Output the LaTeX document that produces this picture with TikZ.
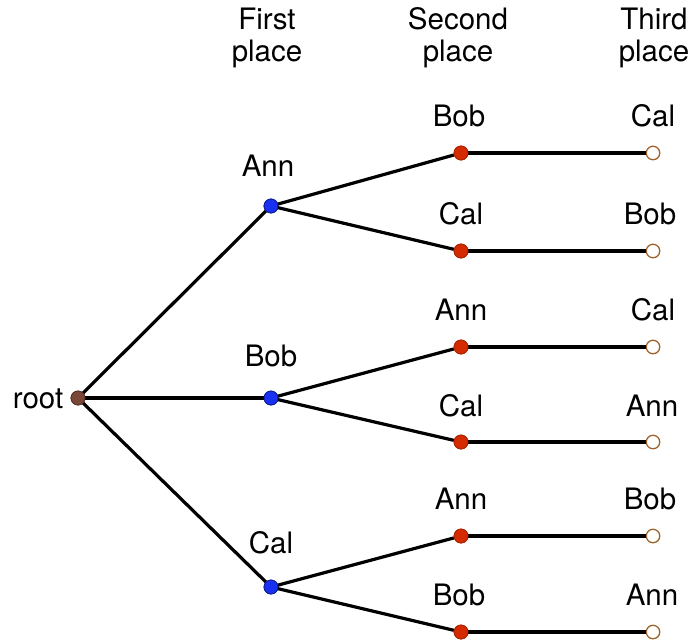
\documentclass[tikz,border=0pt]{standalone}
\usepackage{fontspec}
\setmainfont{TeX Gyre Heros}
\begin{document}
\begin{tikzpicture}[x=1pt,y=-1pt,
  lbl/.style={font=\fontsize{29.5}{32}\selectfont, inner sep=0pt, anchor=center, align=center},
  dotroot/.style={circle, inner sep=0pt, minimum size=14pt, fill=rootbrown, draw=rootbrown!70!black, line width=0.8pt},
  dotfirst/.style={circle, inner sep=0pt, minimum size=14pt, fill=firstblue, draw=firstblue!60!black, line width=0.8pt},
  dotsecond/.style={circle, inner sep=0pt, minimum size=14pt, fill=secondred, draw=secondred!80!black, line width=0.8pt},
  dotthird/.style={circle, inner sep=0pt, minimum size=13.5pt, fill=white, draw=thirdbrown, line width=1.3pt},
  branch/.style={line width=3.2pt, black}]
\definecolor{rootbrown}{HTML}{7A4636}
\definecolor{firstblue}{HTML}{1A30F0}
\definecolor{secondred}{HTML}{D42A00}
\definecolor{thirdbrown}{HTML}{A0622A}
\useasboundingbox (0,0) rectangle (692,640);

% column headings
\node[lbl] (h1) at (267,38) {First\\place};
\node[lbl] (h2) at (458,38) {Second\\place};
\node[lbl] (h3) at (654,38) {Third\\place};

% nodes
\node[dotroot] (r) at (78,398) {};
\node[dotfirst] (a) at (271,206) {};
\node[dotfirst] (b) at (271,398) {};
\node[dotfirst] (c) at (271,587) {};
\node[dotsecond] (ab) at (461,153) {};
\node[dotsecond] (ac) at (461,251) {};
\node[dotsecond] (ba) at (461,347) {};
\node[dotsecond] (bc) at (461,442) {};
\node[dotsecond] (ca) at (461,536) {};
\node[dotsecond] (cb) at (461,632) {};
\node[dotthird] (abc) at (653,153) {};
\node[dotthird] (acb) at (653,251) {};
\node[dotthird] (bac) at (653,347) {};
\node[dotthird] (bca) at (653,442) {};
\node[dotthird] (cab) at (653,536) {};
\node[dotthird] (cba) at (653,632) {};

% branches
\foreach \s/\t in {r/a,r/b,r/c,a/ab,a/ac,b/ba,b/bc,c/ca,c/cb,ab/abc,ac/acb,ba/bac,bc/bca,ca/cab,cb/cba}
  \draw[branch] (\s.center) -- (\t);
% redraw dots on top of the branches
\node[dotroot] at (r) {};
\foreach \n in {a,b,c} \node[dotfirst] at (\n) {};
\foreach \n in {ab,ac,ba,bc,ca,cb} \node[dotsecond] at (\n) {};

% labels
\node[lbl] (lr) at (38,399) {root};
\node[lbl] (la) at (268,166) {Ann};
\node[lbl] (lb) at (271,356) {Bob};
\node[lbl] (lc) at (271,543) {Cal};
\node[lbl] (lab) at (459,116) {Bob};
\node[lbl] (lac) at (461,214) {Cal};
\node[lbl] (lba) at (461,310) {Ann};
\node[lbl] (lbc) at (461,406) {Cal};
\node[lbl] (lca) at (461,499) {Ann};
\node[lbl] (lcb) at (459,595) {Bob};
\node[lbl] (labc) at (653,116) {Cal};
\node[lbl] (lacb) at (650,214) {Bob};
\node[lbl] (lbac) at (653,310) {Cal};
\node[lbl] (lbca) at (652,406) {Ann};
\node[lbl] (lcab) at (650,499) {Bob};
\node[lbl] (lcba) at (652,595) {Ann};
\end{tikzpicture}
\end{document}
